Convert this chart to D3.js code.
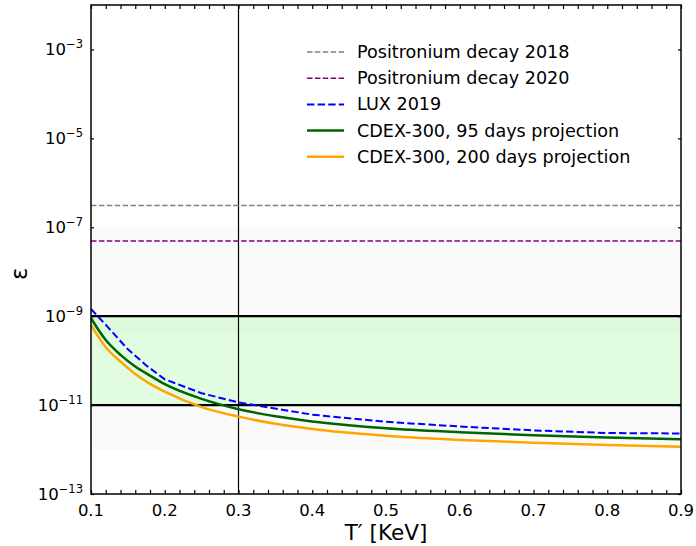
<!DOCTYPE html>
<html>
<head>
<meta charset="utf-8">
<script src="https://cdn.jsdelivr.net/npm/d3@7"></script>
<style>
  body { margin: 0; background: #fff; }
  text { font-family: "DejaVu Sans", sans-serif; fill: #000; }
</style>
</head>
<body>
<script>
// energy threshold T' [KeV]
var xLux = [0.1, 0.125, 0.15, 0.175, 0.2, 0.25, 0.3, 0.4, 0.5, 0.6, 0.7, 0.8, 0.9];
var lux2019 = [1.45e-9, 5.2e-10, 1.8e-10, 7.8e-11, 3.8e-11, 1.85e-11, 1.15e-11, 6.1e-12, 4.2e-12, 3.3e-12, 2.7e-12, 2.35e-12, 2.3e-12];

var xCdex = [0.1, 0.12, 0.14, 0.16, 0.18, 0.2, 0.25, 0.3, 0.35, 0.4, 0.5, 0.6, 0.7, 0.8, 0.9];
var cdex95 = [9.0e-10, 2.9e-10, 1.35e-10, 7.4e-11, 4.6e-11, 2.95e-11, 1.38e-11, 8.1e-12, 5.6e-12, 4.3e-12, 3.0e-12, 2.45e-12, 2.1e-12, 1.86e-12, 1.7e-12];
var cdex200 = [6.3e-10, 2.0e-10, 9.5e-11, 5.0e-11, 3.0e-11, 2.0e-11, 9.0e-12, 5.5e-12, 3.8e-12, 2.9e-12, 2.05e-12, 1.65e-12, 1.42e-12, 1.27e-12, 1.16e-12];

var positronium2018 = 3.1e-7;
var positronium2020 = 4.9e-8;

var grayBand = [1e-12, 1e-7];
var greenBand = [1e-11, 1e-9];
var greenStrip = [4e-10, 1e-9];
var hLines = [1e-9, 1e-11];
var vLine = 0.3;

var xTicks = [0.1, 0.2, 0.3, 0.4, 0.5, 0.6, 0.7, 0.8, 0.9];
var yExps = [-13, -11, -9, -7, -5, -3];

var legendItems = [
  {label: "Positronium decay 2018", color: "#808080", dash: "5.5,2.4", w: 1.5},
  {label: "Positronium decay 2020", color: "#800080", dash: "5.5,2.4", w: 1.5},
  {label: "LUX 2019", color: "blue", dash: "7.4,3.2", w: 2},
  {label: "CDEX-300, 95 days projection", color: "#006400", dash: null, w: 2.5},
  {label: "CDEX-300, 200 days projection", color: "orange", dash: null, w: 2.5}
];

var margin = {top: 5, right: 15, bottom: 52, left: 91},
    width = 696 - margin.left - margin.right,
    height = 546 - margin.top - margin.bottom;

var svg = d3.select("body").append("svg")
    .attr("width", 696)
    .attr("height", 546)
  .append("g")
    .attr("transform", "translate(" + margin.left + "," + margin.top + ")");

var x = d3.scaleLinear().domain([0.1, 0.9]).range([0, width]);
var y = d3.scaleLog().domain([1e-13, 1e-2]).range([height, 0]);

// shaded bands
svg.append("rect")
    .attr("x", 0).attr("width", width)
    .attr("y", y(grayBand[1])).attr("height", y(grayBand[0]) - y(grayBand[1]))
    .style("fill", "#fafafa");
svg.append("rect")
    .attr("x", 0).attr("width", width)
    .attr("y", y(greenBand[1])).attr("height", y(greenBand[0]) - y(greenBand[1]))
    .style("fill", "#e2fce2");
svg.append("rect")
    .attr("x", 0).attr("width", width)
    .attr("y", y(greenStrip[1])).attr("height", y(greenStrip[0]) - y(greenStrip[1]))
    .style("fill", "#def8de");

// black reference lines
svg.selectAll(".hline")
    .data(hLines)
    .enter().append("line")
    .attr("x1", 0).attr("x2", width)
    .attr("y1", function(d) { return y(d); })
    .attr("y2", function(d) { return y(d); })
    .style("stroke", "#000")
    .style("stroke-width", "2.2px");

svg.append("line")
    .attr("x1", x(vLine)).attr("x2", x(vLine))
    .attr("y1", 0).attr("y2", height)
    .style("stroke", "#000")
    .style("stroke-width", "1.2px");

// positronium limits
[[positronium2018, legendItems[0]], [positronium2020, legendItems[1]]].forEach(function(p) {
  svg.append("line")
      .attr("x1", 0).attr("x2", width)
      .attr("y1", y(p[0])).attr("y2", y(p[0]))
      .style("stroke", p[1].color)
      .style("stroke-width", p[1].w + "px")
      .style("stroke-dasharray", p[1].dash);
});

function series(xs, ys) {
  return xs.map(function(v, i) { return {key: v, value: ys[i]}; });
}

var line = d3.line()
    .x(function(d) { return x(d.key); })
    .y(function(d) { return y(d.value); });
var smooth = d3.line()
    .curve(d3.curveMonotoneX)
    .x(function(d) { return x(d.key); })
    .y(function(d) { return y(d.value); });

svg.append("path")
    .datum(series(xCdex, cdex200))
    .style("fill", "none")
    .style("stroke", legendItems[4].color)
    .style("stroke-width", "2.5px")
    .attr("d", smooth);

svg.append("path")
    .datum(series(xCdex, cdex95))
    .style("fill", "none")
    .style("stroke", legendItems[3].color)
    .style("stroke-width", "2.5px")
    .attr("d", smooth);

svg.append("path")
    .datum(series(xLux, lux2019))
    .style("fill", "none")
    .style("stroke", legendItems[2].color)
    .style("stroke-width", "2px")
    .style("stroke-dasharray", legendItems[2].dash)
    .attr("d", line);

// axes, ticks inward on all sides
var minorX = d3.range(0.1, 0.9001, 0.02);
var yTickVals = yExps.map(function(e) { return Math.pow(10, e); });

svg.append("g")
    .attr("transform", "translate(0," + height + ")")
    .call(d3.axisBottom(x).tickValues(minorX).tickSize(-4).tickFormat(""))
    .call(function(g) { g.select(".domain").remove(); });
svg.append("g")
    .call(d3.axisTop(x).tickValues(minorX).tickSize(-4).tickFormat(""))
    .call(function(g) { g.select(".domain").remove(); });
svg.append("g")
    .call(d3.axisLeft(y).tickValues(yTickVals).tickSize(-3).tickFormat(""))
    .call(function(g) { g.select(".domain").remove(); });
svg.append("g")
    .attr("transform", "translate(" + width + ",0)")
    .call(d3.axisRight(y).tickValues(yTickVals).tickSize(-3).tickFormat(""))
    .call(function(g) { g.select(".domain").remove(); });

svg.selectAll(".tick line").style("stroke-width", "1.2px");

// x tick labels
svg.selectAll(".xlab")
    .data(xTicks)
    .enter().append("text")
    .attr("x", function(d) { return x(d); })
    .attr("y", height + 22)
    .attr("text-anchor", "middle")
    .style("font-size", "16.5px")
    .text(function(d) { return d3.format(".1f")(d); });

// y tick labels 10^e
var ylab = svg.selectAll(".ylab")
    .data(yExps)
    .enter().append("text")
    .attr("x", -8)
    .attr("y", function(d) { return y(Math.pow(10, d)) + 6; })
    .attr("text-anchor", "end")
    .style("font-size", "16.5px");
ylab.append("tspan").text("10");
ylab.append("tspan")
    .attr("dy", -7)
    .style("font-size", "11.5px")
    .text(function(d) { return "\u2212" + Math.abs(d); });

// frame
svg.append("rect")
    .attr("width", width).attr("height", height)
    .style("fill", "none")
    .style("stroke", "#000")
    .style("stroke-width", "1.5px");

// axis titles
svg.append("text")
    .attr("x", width / 2)
    .attr("y", height + 46)
    .attr("text-anchor", "middle")
    .style("font-size", "21.5px")
    .text("T\u2032 [KeV]");

svg.append("text")
    .attr("transform", "translate(" + (-64) + "," + (y(1e-8) + 2) + ") rotate(-90)")
    .attr("text-anchor", "middle")
    .style("font-size", "23px")
    .text("\u03b5");

// legend
var legend = svg.selectAll(".legend")
    .data(legendItems)
    .enter().append("g")
    .attr("transform", function(d, i) { return "translate(216," + (47 + i * 26.2) + ")"; });
legend.append("line")
    .attr("x1", 0).attr("x2", 37)
    .style("stroke", function(d) { return d.color; })
    .style("stroke-width", function(d) { return d.w + "px"; })
    .style("stroke-dasharray", function(d) { return d.dash; });
legend.append("text")
    .attr("x", 50)
    .attr("y", 6)
    .style("font-size", "17.6px")
    .text(function(d) { return d.label; });
</script>
</body>
</html>
